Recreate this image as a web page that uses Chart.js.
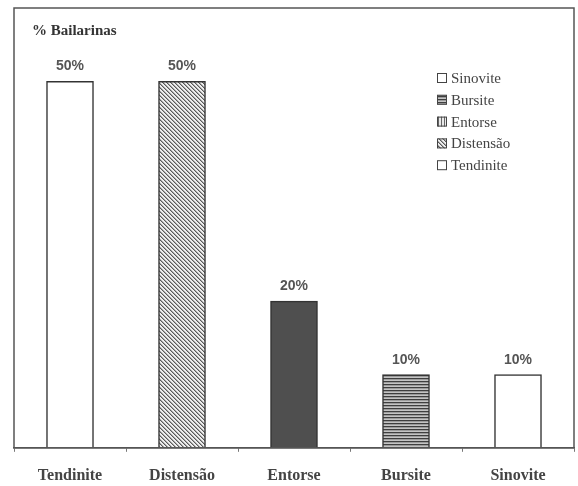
<html>
<head>
  <meta charset="utf-8">
  <title>% Bailarinas</title>
  <script src="https://cdn.jsdelivr.net/npm/chart.js"></script>
  <style>
    body { margin: 0; background: white; }
    #wrap { width: 578px; height: 486px; }
  </style>
</head>
<body>
<div id="wrap"><canvas id="chart"></canvas></div>
<script>
// data
const categories = ['Tendinite', 'Distensão', 'Entorse', 'Bursite', 'Sinovite'];
const percents = [50, 50, 20, 10, 10];
const valueLabels = ['50%', '50%', '20%', '10%', '10%'];
const legendOrder = ['Sinovite', 'Bursite', 'Entorse', 'Distensão', 'Tendinite'];
const yTitle = '% Bailarinas';

// hatched fills
function makePattern(kind) {
  const c = document.createElement('canvas');
  const g = c.getContext('2d');
  if (kind === 'diag') {
    // pixel diagonal "\" lines, 4px apart
    c.width = 4; c.height = 4;
    g.fillStyle = '#eeeeee'; g.fillRect(0, 0, 4, 4);
    for (let i = 0; i < 4; i++) {
      g.fillStyle = '#5a5a5a';
      g.fillRect(i, i, 1, 1);
      g.fillStyle = '#a8a8a8';
      g.fillRect((i + 1) % 4, i, 1, 1);
    }
  } else if (kind === 'horiz') {
    c.width = 4; c.height = 3;
    g.fillStyle = '#c4c4c4'; g.fillRect(0, 0, 4, 3);
    g.fillStyle = '#3f3f3f'; g.fillRect(0, 0, 4, 1.3);
  } else if (kind === 'vert') {
    c.width = 3; c.height = 3;
    g.fillStyle = '#e8e8e8'; g.fillRect(0, 0, 3, 3);
    g.fillStyle = '#666'; g.fillRect(0, 0, 1, 3);
  }
  return g.createPattern(c, 'repeat');
}

const fills = {
  'Tendinite': '#ffffff',
  'Distensão': makePattern('diag'),
  'Entorse': '#4f4f4f',
  'Bursite': makePattern('horiz'),
  'Sinovite': '#ffffff'
};
const legendFills = Object.assign({}, fills, { 'Entorse': makePattern('vert') });

const framePlugin = {
  id: 'frame',
  afterDraw(chart) {
    const ctx = chart.ctx;
    const a = chart.chartArea;
    ctx.save();
    ctx.strokeStyle = '#555';
    ctx.lineWidth = 1.5;
    ctx.strokeRect(a.left, a.top, a.right - a.left, a.bottom - a.top);

    // title
    ctx.fillStyle = '#333';
    ctx.font = 'bold 15px "Liberation Serif", serif';
    ctx.textBaseline = 'alphabetic';
    ctx.textAlign = 'left';
    ctx.fillText(yTitle, 32, 35);

    // value labels
    const meta = chart.getDatasetMeta(0);
    ctx.font = 'bold 14px "Liberation Sans", Arial, sans-serif';
    ctx.fillStyle = '#555';
    ctx.textAlign = 'center';
    meta.data.forEach((bar, i) => {
      ctx.fillText(valueLabels[i], bar.x, bar.y - 11);
    });

    // legend
    ctx.font = '15px "Liberation Serif", serif';
    ctx.textAlign = 'left';
    ctx.textBaseline = 'middle';
    legendOrder.forEach((name, i) => {
      const y = 78 + i * 21.8;
      ctx.fillStyle = legendFills[name];
      ctx.fillRect(437, y - 5, 10, 10);
      ctx.strokeStyle = '#444';
      ctx.lineWidth = 1;
      ctx.strokeRect(437.5, y - 4.5, 9, 9);
      ctx.fillStyle = '#444';
      ctx.fillText(name, 451, y + 1);
    });
    ctx.restore();
  }
};

new Chart(document.getElementById('chart'), {
  type: 'bar',
  data: {
    labels: categories,
    datasets: [{
      data: percents,
      backgroundColor: categories.map(c => fills[c]),
      borderColor: '#333',
      borderWidth: 1.5,
      barThickness: 47
    }]
  },
  options: {
    responsive: true,
    maintainAspectRatio: false,
    animation: false,
    layout: { padding: { left: 14, right: 4, top: 8, bottom: -13 } },
    plugins: { legend: { display: false }, tooltip: { enabled: false } },
    scales: {
      x: {
        grid: { drawOnChartArea: false, drawTicks: true, tickLength: 4, color: '#777', offset: true },
        border: { color: '#555', width: 1.5 },
        ticks: {
          color: '#444',
          padding: 14,
          font: { family: '"Liberation Serif", serif', size: 16, weight: 'bold' }
        }
      },
      y: {
        display: false,
        min: 0,
        max: 60
      }
    }
  },
  plugins: [framePlugin]
});
</script>
</body>
</html>
